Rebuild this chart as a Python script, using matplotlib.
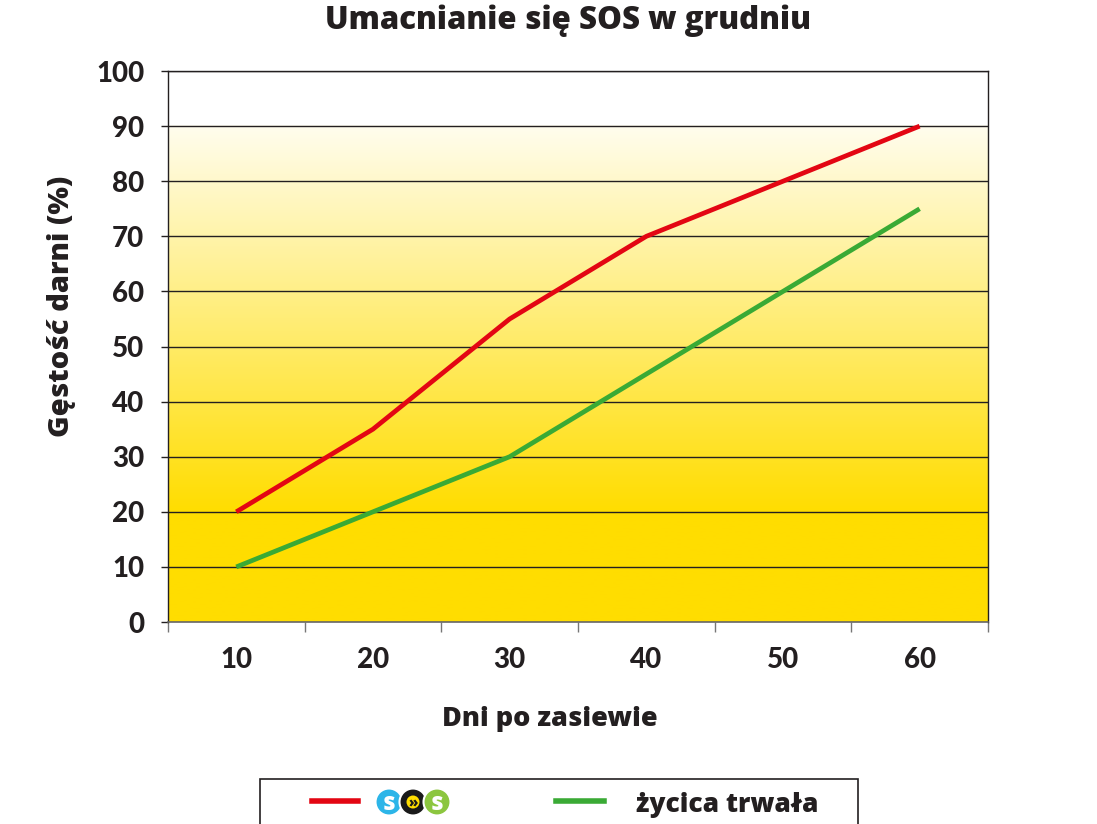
import matplotlib

matplotlib.use("Agg")
import matplotlib.pyplot as plt
import numpy as np
from matplotlib.lines import Line2D
from matplotlib.patches import Circle, Rectangle

# data
days = [10, 20, 30, 40, 50, 60]
sos = [20, 35, 55, 70, 80, 90]
zycica = [10, 20, 30, 45, 60, 75]
y_ticks = [0, 10, 20, 30, 40, 50, 60, 70, 80, 90, 100]

title = "Umacnianie się SOS w grudniu"
x_label = "Dni po zasiewie"
y_label = "Gęstość darni (%)"
legend_label = "życica trwała"

RED = "#E30613"
GREEN = "#3AAA35"
YELLOW = np.array([255, 221, 0]) / 255
CREAM = np.array([255, 253, 238]) / 255
DARK = "#231F20"

LABEL_FONT = ["Open Sans", "DejaVu Sans"]
TICK_FONT = ["Lato", "DejaVu Sans"]
LABEL_W = 800
TICK_W = 900


def background(n=400):
    # white above 90, gradient cream -> yellow between 90 and 20, solid below
    ys = np.linspace(0, 100, n)
    t = np.clip((ys - 20) / 70, 0, 1)[:, None]
    rgb = YELLOW * (1 - t) + CREAM * t
    rgb[ys > 90] = 1.0
    return rgb[:, None, :]


def main() -> None:
    fig = plt.figure(figsize=(10.97, 8.24), dpi=100)
    ax = fig.add_axes([0.1531, 0.2451, 0.7475, 0.6687])

    ax.imshow(background(), extent=[5, 65, 0, 100], origin="lower",
              aspect="auto", zorder=0, interpolation="bilinear")

    ax.set_xlim(5, 65)
    ax.set_ylim(0, 100)

    for y in y_ticks[1:]:
        ax.axhline(y, color=DARK, lw=1.0, zorder=1)

    ax.plot(days, zycica, color=GREEN, lw=3.4, zorder=3, solid_capstyle="butt")
    ax.plot(days, sos, color=RED, lw=3.4, zorder=3, solid_capstyle="butt")

    ax.set_yticks(y_ticks)
    ax.set_yticklabels([str(v) for v in y_ticks], family=TICK_FONT,
                       fontweight=TICK_W, fontsize=20, color=DARK)
    ax.tick_params(axis="y", direction="out", length=5, width=1.0,
                   color=DARK, pad=12)

    ax.set_xticks(np.arange(5, 66, 10))
    ax.set_xticklabels([])
    ax.set_xticks(days, minor=True)
    ax.set_xticklabels([str(d) for d in days], minor=True, family=TICK_FONT,
                       fontweight=TICK_W, fontsize=20, color=DARK)
    ax.tick_params(axis="x", which="major", direction="out", length=7,
                   width=1.0, color="#777777")
    ax.tick_params(axis="x", which="minor", length=0, pad=18)

    for side in ("left", "right", "top"):
        ax.spines[side].set_color(DARK)
        ax.spines[side].set_linewidth(1.0)
    ax.spines["bottom"].set_color("#666666")
    ax.spines["bottom"].set_linewidth(1.2)

    ax.set_xlabel(x_label, family=LABEL_FONT, fontweight=LABEL_W, fontsize=19.5,
                  color=DARK)
    ax.xaxis.set_label_coords(0.466, -0.153)
    ax.set_ylabel(y_label, family=LABEL_FONT, fontweight=LABEL_W, fontsize=21,
                  color=DARK)
    ax.yaxis.set_label_coords(-0.112, 0.573)

    fig.text(0.518, 0.965, title, family=LABEL_FONT, fontweight=LABEL_W,
             fontsize=22.5, color=DARK, ha="center", va="baseline")

    # legend box, drawn by hand (partly cut off at the bottom edge)
    W, H = 1097, 824

    def fx(px):
        return px / W

    def fy(py):
        return 1 - py / H

    fig.patches.append(Rectangle((fx(260), fy(830)), fx(858) - fx(260),
                                 fy(779) - fy(830), transform=fig.transFigure,
                                 facecolor="white", edgecolor=DARK, lw=1.2))
    fig.lines.append(Line2D([fx(312), fx(358)], [fy(801), fy(801)],
                            transform=fig.transFigure, color=RED, lw=4))
    fig.lines.append(Line2D([fx(556), fx(604)], [fy(801), fy(801)],
                            transform=fig.transFigure, color=GREEN, lw=4))
    fig.text(fx(636), fy(812), legend_label, family=LABEL_FONT,
             fontweight=LABEL_W, fontsize=19, color=DARK, va="baseline")

    # SOS logo: blue S, black O with yellow centre, green S (inch units keep them round)
    logo = [(389, "#2CB5E8", "s"), (413, "#1A1A1A", ""), (437, "#8CC63F", "s")]
    for cx, col, ch in logo:
        fig.patches.append(Circle((cx / 100, (H - 802) / 100), 0.135,
                                  transform=fig.dpi_scale_trans,
                                  facecolor=col, edgecolor="white", lw=1.5))
        if ch:
            fig.text(fx(cx), fy(804), ch, family=LABEL_FONT, fontweight=LABEL_W,
                     fontsize=17, color="white", ha="center", va="center")
    fig.patches.append(Circle((413 / 100, (H - 802) / 100), 0.065,
                              transform=fig.dpi_scale_trans,
                              facecolor="#FFDD00", edgecolor="none"))
    fig.text(fx(413), fy(803), "»", family=LABEL_FONT, fontweight=LABEL_W,
             fontsize=10, color="#1A1A1A", ha="center", va="center")

    fig.savefig("out.png", dpi=100)
    plt.close(fig)


if __name__ == "__main__":
    main()
